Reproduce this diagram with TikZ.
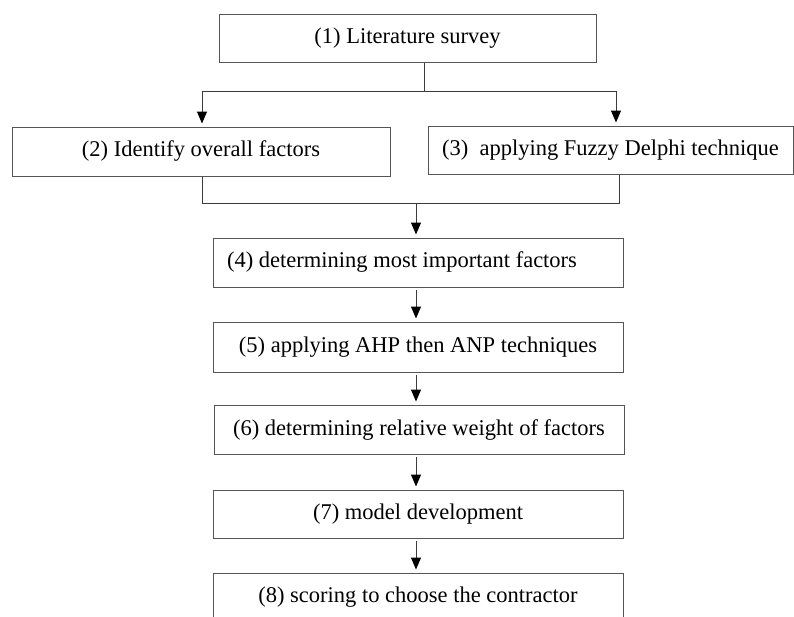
\documentclass[tikz,border=0pt]{standalone}
\usepackage{fontspec}
\setmainfont{Liberation Serif}
\usetikzlibrary{arrows.meta,calc}
\definecolor{edgegray}{RGB}{85,85,85}
\definecolor{linegray}{RGB}{60,60,60}
\tikzset{
  stepbox/.style={draw=edgegray, line width=1pt, rectangle, inner sep=0pt,
    font=\fontsize{22.5}{26}\selectfont, anchor=center},
  conn/.style={draw=linegray, line width=1pt},
  tip/.style={-{Triangle[width=10pt,length=12pt,black]}},
  arr/.style={conn, tip, shorten <=2pt, shorten >=3pt},
  arrj/.style={conn, tip, shorten >=3pt}
}
\begin{document}
\begin{tikzpicture}[x=1pt,y=-1pt]
\useasboundingbox (0,0) rectangle (794,616);
\clip (0,0) rectangle (794,616);
\node[stepbox, minimum width=377pt, minimum height=48pt] (b1) at (407.5,38) {(1) Literature survey};
\node[stepbox, minimum width=378pt, minimum height=49pt] (b2) at (201,151.5) {(2) Identify overall factors};
\node[stepbox, minimum width=365pt, minimum height=48pt] (b3) at (610.5,150) {(3)\ \ applying Fuzzy Delphi technique};
\node[stepbox, minimum width=410pt, minimum height=49pt] (b4) at (418,262.5) {\hspace*{-32pt}(4) determining most important factors};
\node[stepbox, minimum width=410pt, minimum height=50pt] (b5) at (418,347) {(5) applying AHP then ANP techniques};
\node[stepbox, minimum width=410pt, minimum height=49pt] (b6) at (419,429.5) {(6) determining relative weight of factors};
\node[stepbox, minimum width=410pt, minimum height=48pt] (b7) at (418,514) {(7) model development};
\node[stepbox, minimum width=410pt, minimum height=49pt] (b8) at (418,597.5) {(8) scoring to choose the contractor};
\coordinate (j1) at (424,91);
\coordinate (a2) at (202,91);
\coordinate (a3) at (616,91);
\coordinate (c2) at (202,203);
\coordinate (c3) at (619,203);
\coordinate (j2) at (416,203);
\draw[conn] (j1 |- b1.south) -- (j1);
\draw[arrj] (j1) -- (a2) -- (a2 |- b2.north);
\draw[arrj] (j1) -- (a3) -- (a3 |- b3.north);
\draw[conn] (c2 |- b2.south) -- (c2) -- (c3) -- (c3 |- b3.south);
\draw[arrj] (j2) -- (j2 |- b4.north);
\draw[arr] (j2 |- b4.south) -- (j2 |- b5.north);
\draw[arr] (j2 |- b5.south) -- (j2 |- b6.north);
\draw[arr] (j2 |- b6.south) -- (j2 |- b7.north);
\draw[arr] (j2 |- b7.south) -- (j2 |- b8.north);
\end{tikzpicture}
\end{document}
